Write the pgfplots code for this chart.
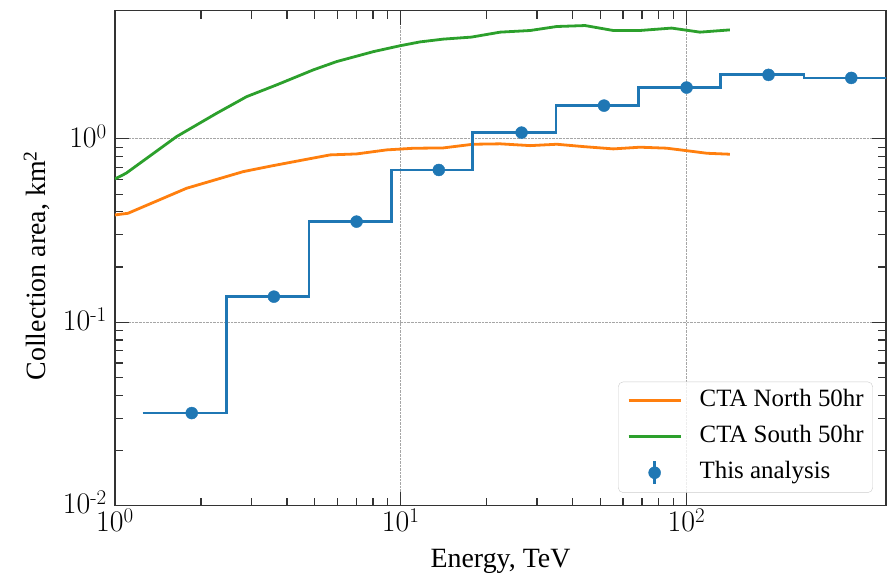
\documentclass[border=0pt]{standalone}
\usepackage{fontspec}
\setmainfont{Liberation Serif}
\newfontfamily\lmfont{Latin Modern Roman}
\usepackage{pgfplots}
\pgfplotsset{compat=1.18}

\definecolor{tabblue}{HTML}{1F77B4}
\definecolor{taborange}{HTML}{FF7F0E}
\definecolor{tabgreen}{HTML}{2CA02C}

\begin{document}
\begin{tikzpicture}
\begin{axis}[
  xmode=log, ymode=log,
  scale only axis, width=771bp, height=495bp,
  xmin=1, xmax=500, ymin=0.01, ymax=5,
  xtick={1,10,100}, ytick={0.01,0.1,1},
  xticklabels={10\textsuperscript{0},10\textsuperscript{1},10\textsuperscript{2}},
  yticklabels={10\textsuperscript{-2},10\textsuperscript{-1},10\textsuperscript{0}},
  grid=major,
  major grid style={densely dotted, black!35, line width=0.8bp},
  tick align=inside,
  major tick length=14bp, minor tick length=8bp,
  tick style={black!80, line width=1.2bp},
  axis line style={black!80, line width=1.5bp},
  ticklabel style={font=\lmfont\fontsize{30}{32}\selectfont, inner sep=0pt},
  xticklabel style={anchor=north, yshift=-3bp},
  yticklabel style={anchor=east, xshift=-8bp, yshift=3bp},
  xlabel={Energy, TeV},
  ylabel={Collection area, km\textsuperscript{2}},
  label style={font=\fontsize{28}{31}\selectfont},
  xlabel style={at={(axis description cs:0.5,-0.1253)}, anchor=base},
  ylabel style={at={(axis description cs:-0.0901,0.485)}, anchor=base},
  legend style={
    at={(0.983,0.026)}, anchor=south east,
    font=\fontsize{25}{30}\selectfont,
    draw=black!20, rounded corners=5bp,
    fill=white, fill opacity=0.8, text opacity=1,
    row sep=11.5bp, inner xsep=9bp, inner ysep=7bp,
    nodes={inner xsep=0bp, inner ysep=0bp, text height=18bp, text depth=6bp},
    cells={anchor=west},
  },
]
\coordinate (sw) at (rel axis cs:0,0);
\coordinate (ne) at (rel axis cs:1,1);

% CTA North, 50 hr
\addplot[taborange, line width=2.8bp,
  legend image code/.code={
    \draw[taborange, line width=2.8bp] (0bp,0bp) -- (52bp,0bp);
    \path[draw=none, fill=none] (0bp,0bp) (71bp,0bp);}
] coordinates {
  (1.0,0.385) (1.11,0.393) (1.78,0.538) (2.81,0.663) (3.58,0.715)
  (4.56,0.768) (5.66,0.818) (7.01,0.828) (8.93,0.871) (11.07,0.889)
  (14.1,0.893) (17.9,0.935) (22.3,0.94) (28.4,0.919) (35.2,0.935)
  (43.6,0.908) (55.5,0.882) (68.8,0.901) (85.3,0.89) (100,0.863)
  (118,0.835) (142,0.825)
};
\addlegendentry{CTA North 50hr}

% CTA South, 50 hr
\addplot[tabgreen, line width=2.8bp,
  legend image code/.code={
    \draw[tabgreen, line width=2.8bp] (0bp,0bp) -- (52bp,0bp);
    \path[draw=none, fill=none] (0bp,0bp) (71bp,0bp);}
] coordinates {
  (1.0,0.605) (1.094,0.65) (1.644,1.03) (2.27,1.38) (2.89,1.70)
  (3.68,1.97) (4.95,2.38) (5.97,2.64) (8.02,2.99) (9.94,3.22)
  (11.7,3.38) (14.1,3.50) (17.7,3.59) (22.3,3.82) (28.4,3.90)
  (35.2,4.10) (44.2,4.15) (55.5,3.90) (68.8,3.90) (88.8,4.02)
  (111.6,3.82) (142,3.93)
};
\addlegendentry{CTA South 50hr}

% binned collection area of this analysis (bin edges)
\addplot[tabblue, line width=2.8bp, const plot, forget plot] coordinates {
  (1.25,0.032) (2.45,0.138) (4.78,0.354) (9.3,0.677) (17.9,1.082)
  (35,1.519) (68,1.905) (132,2.234) (258,2.15) (509,2.15)
};

% bin centres
\addplot[tabblue, only marks, mark=*, mark size=6bp,
  legend image code/.code={
    \draw[tabblue, line width=2.8bp] (26bp,-11.5bp) -- (26bp,11.5bp);
    \fill[tabblue, fill opacity=1] (26bp,0bp) circle (6bp);
    \path[draw=none, fill=none] (0bp,0bp) (71bp,0bp);}
] coordinates {
  (1.856,0.032) (3.60,0.138) (7.01,0.354) (13.6,0.677) (26.5,1.082)
  (51.5,1.519) (100.2,1.905) (194,2.234) (378,2.15)
};
\addlegendentry{This analysis}
\end{axis}
\path ([shift={(-115bp,-69.3bp)}]sw) rectangle ([shift={(2bp,10.7bp)}]ne);
\end{tikzpicture}
\end{document}
